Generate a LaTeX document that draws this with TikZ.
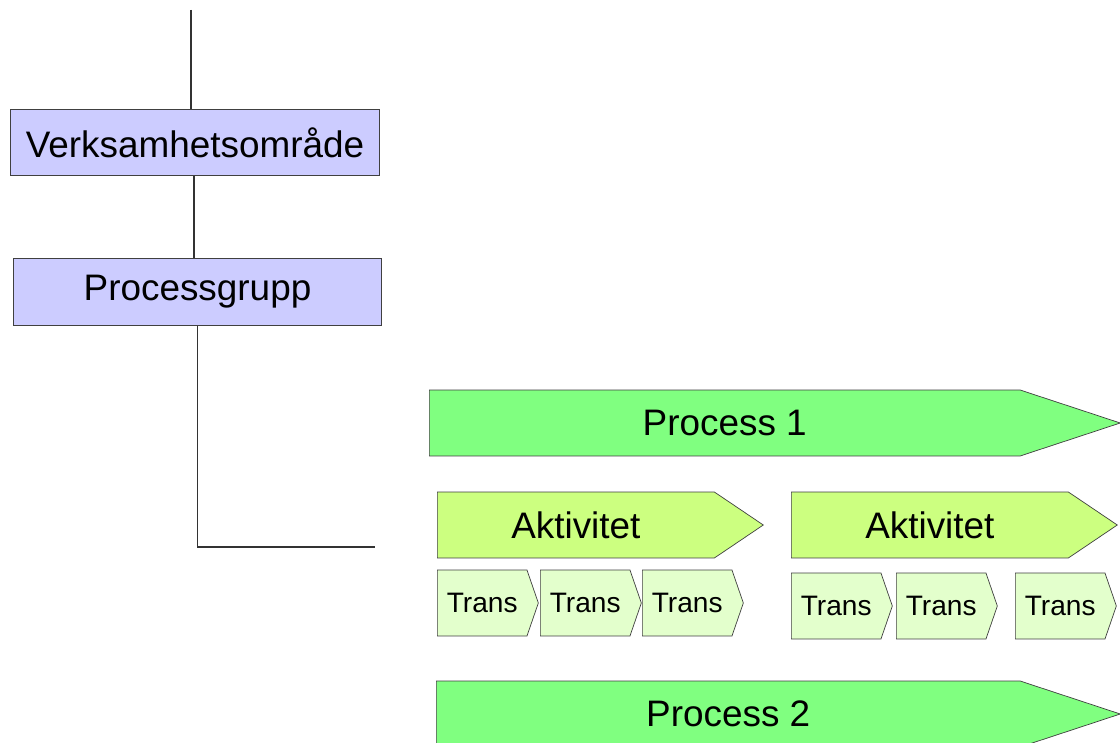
\documentclass[tikz,border=0pt]{standalone}
\usepackage{fontspec}
\setmainfont{Liberation Sans}
\usepackage{xcolor}
\usetikzlibrary{shapes.symbols}

\definecolor{areablue}{HTML}{CCCCFF}
\definecolor{processgreen}{HTML}{80FF80}
\definecolor{activitygreen}{HTML}{CCFF80}
\definecolor{transgreen}{HTML}{E3FFCC}

\begin{document}
\begin{tikzpicture}[x=0.02cm,y=-0.02cm]
			\tikzstyle{level} = [draw=black!75, fill=areablue, minimum width=7.37cm, minimum height=1.33cm, inner sep=0pt, font=\fontsize{21}{25}\selectfont]
			\tikzstyle{process} = [signal, signal to=east, signal from=nowhere, signal pointer angle=36.5, draw=black!75, fill=processgreen, minimum height=1.32cm, inner sep=0pt, anchor=west, font=\fontsize{21}{25}\selectfont]
			\tikzstyle{activity} = [signal, signal to=east, signal from=nowhere, signal pointer angle=68, draw=black!75, fill=activitygreen, minimum width=6.52cm, minimum height=1.32cm, inner sep=0pt, anchor=west, font=\fontsize{21}{25}\selectfont]
			\tikzstyle{trans} = [signal, signal to=east, signal from=nowhere, signal pointer angle=142, draw=black!75, fill=transgreen, minimum width=2.02cm, minimum height=1.32cm, inner sep=0pt, anchor=west, font=\fontsize{16}{19}\selectfont]
			\tikzset{link/.style = {draw=black!80, line width=0.6pt}}
			
			\fill[white] (0,0) rectangle (1120,743);
			\useasboundingbox (0,0) rectangle (1120,743);
			\clip (0,0) rectangle (1120,743);
			
			\node[level](area) at (195,142.5) {Verksamhetsområde};
			\node[level](group) at (197.5,292) {Processgrupp};
			\coordinate (top) at (191,10);
			\coordinate (end) at (375,547);
			\draw[link](top) -- (top |- area.north);
			\draw[link]([xshift=-0.02cm]area.south) -- ([xshift=-0.02cm]area.south |- group.north);
			\draw[link](group.south) |- (end);
			
			\node[process, minimum width=13.82cm](process1) at (429,423) {Process 1};
			
			\node[activity](act1) at (437,525) {Aktivitet};
			\node[activity](act2) at (791,525) {Aktivitet};
			
			\node[trans](trans1) at (437,603) {Trans};
			\node[trans](trans2) at (540,603) {Trans};
			\node[trans](trans3) at (642,603) {Trans};
			\node[trans](trans4) at (791,606) {Trans};
			\node[trans](trans5) at (896,606) {Trans};
			\node[trans](trans6) at (1015,606) {Trans};
			
			\node[process, minimum width=13.68cm](process2) at (436,714) {Process 2};
			
\end{tikzpicture}
\end{document}
